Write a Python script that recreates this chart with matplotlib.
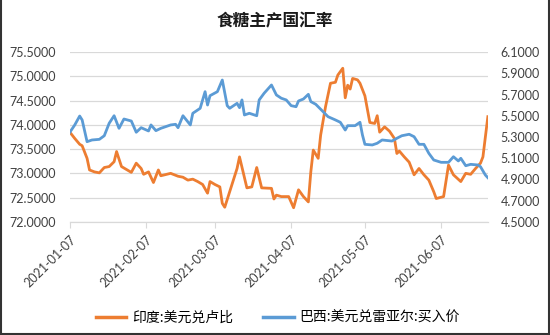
import pandas as pd
import matplotlib
matplotlib.use('Agg')
import matplotlib.pyplot as plt
import matplotlib.dates as mdates
from matplotlib.lines import Line2D
from matplotlib.ticker import FixedLocator, MultipleLocator, FormatStrFormatter

plt.rcParams['font.family'] = ['Lato', 'Noto Sans CJK SC', 'DejaVu Sans']

# India: USD/INR (left axis)
inr_dates = ['2021-01-07', '2021-01-09', '2021-01-11', '2021-01-12', '2021-01-14', '2021-01-15',
             '2021-01-17', '2021-01-19', '2021-01-21', '2021-01-23', '2021-01-25', '2021-01-26',
             '2021-01-28', '2021-01-30', '2021-02-01', '2021-02-03', '2021-02-05', '2021-02-06',
             '2021-02-08', '2021-02-10', '2021-02-12', '2021-02-13', '2021-02-17', '2021-02-20',
             '2021-02-22', '2021-02-24', '2021-02-26', '2021-02-28', '2021-03-02', '2021-03-04',
             '2021-03-05', '2021-03-07', '2021-03-09', '2021-03-10', '2021-03-11', '2021-03-13',
             '2021-03-16', '2021-03-17', '2021-03-20', '2021-03-22', '2021-03-24', '2021-03-26',
             '2021-03-30', '2021-03-31', '2021-04-01', '2021-04-03', '2021-04-06', '2021-04-08',
             '2021-04-10', '2021-04-12', '2021-04-14', '2021-04-15', '2021-04-16', '2021-04-18',
             '2021-04-19', '2021-04-21', '2021-04-23', '2021-04-25', '2021-04-26', '2021-04-28',
             '2021-04-29', '2021-04-30', '2021-05-01', '2021-05-02', '2021-05-04', '2021-05-05',
             '2021-05-07', '2021-05-09', '2021-05-11', '2021-05-12', '2021-05-13', '2021-05-15',
             '2021-05-17', '2021-05-19', '2021-05-20', '2021-05-21', '2021-05-23', '2021-05-25',
             '2021-05-27', '2021-05-29', '2021-05-31', '2021-06-02', '2021-06-04', '2021-06-05',
             '2021-06-08', '2021-06-10', '2021-06-12', '2021-06-15', '2021-06-17', '2021-06-19',
             '2021-06-21', '2021-06-23', '2021-06-24', '2021-06-26']
inr_values = [73.85, 73.72, 73.60, 73.57, 73.31, 73.07,
              73.03, 73.01, 73.12, 73.14, 73.24, 73.45,
              73.14, 73.08, 73.02, 73.21, 73.10, 72.98,
              73.03, 72.81, 73.07, 72.95, 73.00, 72.94,
              72.92, 72.86, 72.88, 72.83, 72.77, 72.59,
              72.83, 72.77, 72.72, 72.38, 72.30, 72.62,
              73.10, 73.34, 72.70, 72.72, 73.12, 72.70,
              72.69, 72.47, 72.55, 72.52, 72.52, 72.29,
              72.66, 72.52, 72.41, 73.03, 73.48, 73.31,
              73.79, 74.38, 74.86, 74.88, 75.03, 75.17,
              74.56, 74.82, 74.74, 74.96, 74.93, 74.86,
              74.60, 74.05, 74.03, 74.19, 73.85, 73.96,
              73.87, 73.72, 73.41, 73.46, 73.34, 73.23,
              72.97, 73.10, 72.97, 72.86, 72.62, 72.48,
              72.52, 73.17, 72.97, 72.83, 73.00, 72.98,
              73.10, 73.21, 73.34, 74.17]

# Brazil: USD/BRL bid (right axis)
brl_dates = ['2021-01-07', '2021-01-09', '2021-01-11', '2021-01-12', '2021-01-14', '2021-01-16',
             '2021-01-19', '2021-01-21', '2021-01-23', '2021-01-25', '2021-01-27', '2021-01-29',
             '2021-02-01', '2021-02-03', '2021-02-05', '2021-02-08', '2021-02-09', '2021-02-11',
             '2021-02-13', '2021-02-17', '2021-02-19', '2021-02-20', '2021-02-22', '2021-02-25',
             '2021-02-26', '2021-03-01', '2021-03-03', '2021-03-04', '2021-03-05', '2021-03-08',
             '2021-03-10', '2021-03-12', '2021-03-13', '2021-03-16', '2021-03-17', '2021-03-18',
             '2021-03-19', '2021-03-21', '2021-03-24', '2021-03-25', '2021-03-27', '2021-03-30',
             '2021-04-01', '2021-04-03', '2021-04-05', '2021-04-07', '2021-04-09', '2021-04-10',
             '2021-04-12', '2021-04-14', '2021-04-15', '2021-04-17', '2021-04-20', '2021-04-22',
             '2021-04-25', '2021-04-27', '2021-04-29', '2021-04-30', '2021-05-03', '2021-05-05',
             '2021-05-06', '2021-05-07', '2021-05-10', '2021-05-12', '2021-05-14', '2021-05-18',
             '2021-05-20', '2021-05-22', '2021-05-25', '2021-05-27', '2021-05-29', '2021-05-31',
             '2021-06-02', '2021-06-04', '2021-06-07', '2021-06-10', '2021-06-12', '2021-06-14',
             '2021-06-15', '2021-06-17', '2021-06-19', '2021-06-22', '2021-06-23', '2021-06-25',
             '2021-06-26']
brl_values = [5.345, 5.414, 5.498, 5.461, 5.256, 5.272,
              5.278, 5.312, 5.430, 5.501, 5.382, 5.470,
              5.451, 5.345, 5.388, 5.357, 5.414, 5.360,
              5.382, 5.414, 5.420, 5.388, 5.501, 5.414,
              5.524, 5.571, 5.728, 5.602, 5.690, 5.728,
              5.838, 5.596, 5.571, 5.618, 5.577, 5.650,
              5.508, 5.524, 5.501, 5.650, 5.713, 5.791,
              5.697, 5.666, 5.650, 5.596, 5.586, 5.640,
              5.659, 5.703, 5.634, 5.609, 5.539, 5.492,
              5.461, 5.439, 5.366, 5.407, 5.407, 5.439,
              5.319, 5.231, 5.225, 5.241, 5.272, 5.262,
              5.288, 5.312, 5.326, 5.303, 5.231, 5.231,
              5.146, 5.083, 5.061, 5.061, 5.114, 5.074,
              5.099, 5.029, 5.042, 5.036, 5.020, 4.941,
              4.916]

tick_dates = ['2021-01-07', '2021-02-07', '2021-03-07', '2021-04-07', '2021-05-07', '2021-06-07']
right_ticks = [4.5, 4.7, 4.9, 5.1, 5.3, 5.5, 5.7, 5.9, 6.1]

inr = pd.Series(inr_values, index=pd.to_datetime(inr_dates))
brl = pd.Series(brl_values, index=pd.to_datetime(brl_dates))

orange = '#ED7D31'
blue = '#5B9BD5'
grid_c = '#D9D9D9'
text_c = '#404040'

fig = plt.figure(figsize=(5.5, 3.35), dpi=100)
ax = fig.add_axes([0.127, 0.338, 0.760, 0.506])
ax2 = ax.twinx()

ax.plot(inr.index, inr.values, color=orange, lw=2.0, solid_joinstyle='round')
ax2.plot(brl.index, brl.values, color=blue, lw=2.0, solid_joinstyle='round')

ax.set_ylim(72.0, 75.5)
ax2.set_ylim(4.5, 6.1)
ax.yaxis.set_major_locator(MultipleLocator(0.5))
ax2.yaxis.set_major_locator(FixedLocator(right_ticks))
ax.yaxis.set_major_formatter(FormatStrFormatter('%.4f'))
ax2.yaxis.set_major_formatter(FormatStrFormatter('%.4f'))
ax.set_xlim(pd.Timestamp('2021-01-07'), pd.Timestamp('2021-06-26'))

ax.set_xticks(pd.to_datetime(tick_dates))
ax.xaxis.set_major_formatter(mdates.DateFormatter('%Y-%m-%d'))
plt.setp(ax.get_xticklabels(), rotation=45, ha='right', rotation_mode='anchor')

ax.grid(axis='y', color=grid_c, lw=0.9)
ax.set_axisbelow(True)
for a in (ax, ax2):
    for s in ('top', 'left', 'right'):
        a.spines[s].set_visible(False)
    a.spines['bottom'].set_color(grid_c)
    a.tick_params(axis='y', length=0, labelsize=9, labelcolor=text_c)
ax.tick_params(axis='y', pad=10)
ax2.tick_params(axis='y', pad=9)
ax.tick_params(axis='x', length=4, color=grid_c, labelsize=9, labelcolor=text_c, pad=4)

fig.text(0.5, 0.935, '食糖主产国汇率', ha='center', va='center', fontsize=12, fontweight='bold',
         family=['Noto Sans CJK SC', 'DejaVu Sans'], color='#1a1a1a')

handles = [Line2D([], [], color=orange, lw=2.5), Line2D([], [], color=blue, lw=2.5)]
fig.legend(handles, ['印度:美元兑卢比', '巴西:美元兑雷亚尔:买入价'], loc='center',
           bbox_to_anchor=(0.505, 0.052), ncol=2, frameon=False, handlelength=2.2,
           columnspacing=2.2, handletextpad=0.4,
           prop={'family': ['Noto Sans CJK SC', 'DejaVu Sans'], 'size': 10})

# dark frame on left, right and bottom edges
for xs, ys in (([0.002, 0.002], [0, 1]), ([0.998, 0.998], [0, 1]), ([0, 1], [0.004, 0.004])):
    fig.add_artist(Line2D(xs, ys, color='#333333', lw=1.5, transform=fig.transFigure))

fig.savefig('out.png', dpi=100)
